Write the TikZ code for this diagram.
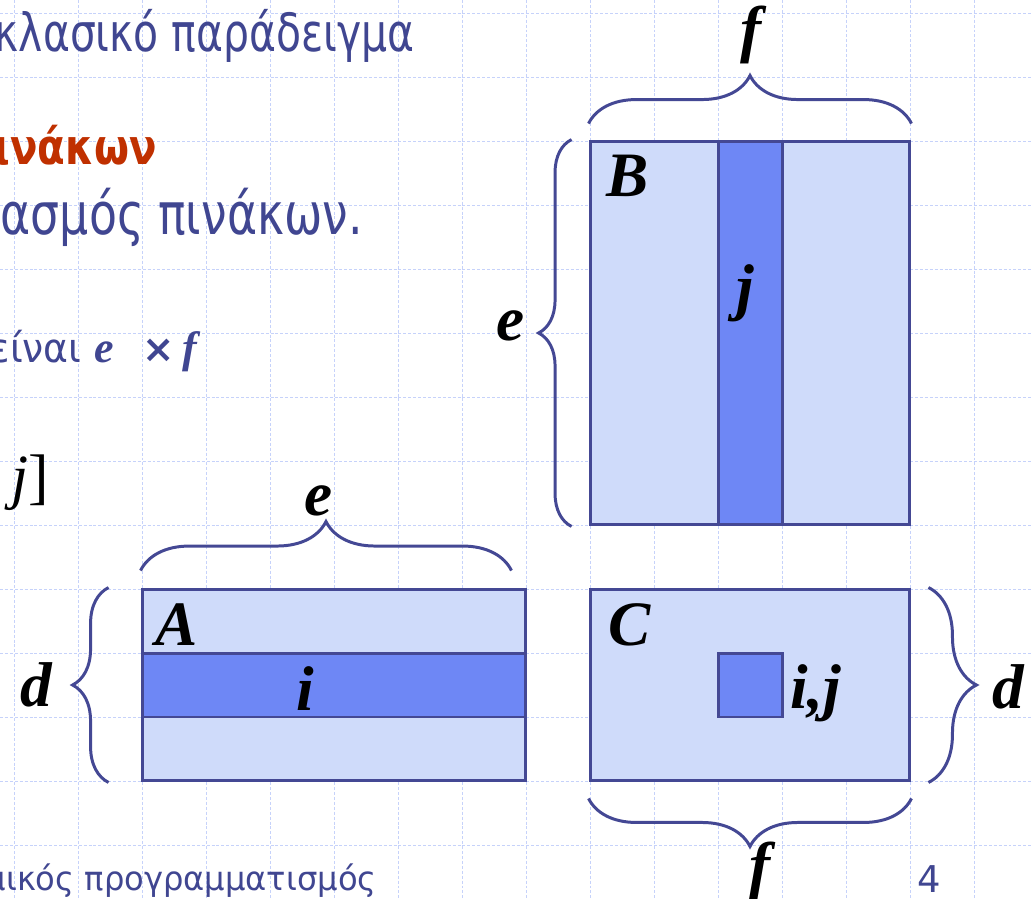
\documentclass[tikz,border=0pt]{standalone}
\usepackage{fontspec}
\setmainfont{Liberation Serif}
\newfontfamily\grfont{DejaVu Sans}
\usetikzlibrary{decorations.pathreplacing,positioning}

\definecolor{textblue}{RGB}{64,70,145}
\definecolor{matline}{RGB}{68,72,148}
\definecolor{matlight}{RGB}{207,219,250}
\definecolor{matdark}{RGB}{110,135,245}
\definecolor{titlered}{RGB}{192,48,0}
\definecolor{gridblue}{RGB}{198,210,250}

\begin{document}
\begin{tikzpicture}[x=0.02cm,y=-0.02cm,
  mat/.style={draw=matline,line width=1.7pt,fill=matlight,inner sep=0pt},
  strip/.style={mat,fill=matdark},
  brace/.style={draw=matline,line width=1.7pt,decorate,decoration={brace,amplitude=#1}},
  lbl/.style={font=\fontsize{36}{36}\selectfont\bfseries\itshape,inner sep=0pt,anchor=base},
  slide/.style={font=\grfont\fontsize{#1}{#1}\selectfont,text=textblue,inner sep=0pt,anchor=base east}]
\useasboundingbox (0,0) rectangle (1033,898);
\clip (0,0) rectangle (1033,898);
\fill[white] (0,0) rectangle (1033,898);
% slide grid
\foreach \x in {14,78,...,1038}
  \draw[gridblue,line width=0.55pt,dash pattern=on 1.7pt off 1.1pt] (\x,0) -- (\x,898);
\foreach \y in {13,77,...,909}
  \draw[gridblue,line width=0.55pt,dash pattern=on 1.7pt off 1.1pt] (0,\y) -- (1033,\y);

% slide text (cut at the left edge)
\node[slide=30] (line1) at (415,52) {\resizebox{8.4cm}{\height}{κλασικό παράδειγμα}};
\node[slide=28,text=titlered] (line2) at (157,165) {\bfseries\resizebox{3.24cm}{\height}{ινάκων}};
\node[slide=33] (line3) at (363,235) {\resizebox{7.24cm}{\height}{ασμός πινάκων.}};
\node[slide=23] (line4) at (82,362) {\resizebox{1.84cm}{\height}{είναι}};
\node[inner sep=0pt,anchor=base west,text=textblue,font=\fontsize{25}{25}\selectfont\bfseries\itshape] (dime) at (94,362) {e};
\node[inner sep=0pt,anchor=base west,text=textblue,font=\grfont\fontsize{22}{22}\selectfont\bfseries] (times) at (142,362) {×};
\node[inner sep=0pt,anchor=base west,text=textblue,font=\fontsize{25}{25}\selectfont\bfseries\itshape] (dimf) at (182,362) {f};
\node[inner sep=0pt,anchor=base west,font=\fontsize{35}{35}\selectfont] (idx) at (11,497) {\textit{j}]};
\node[slide=19] (footer) at (377,890) {\resizebox{7.82cm}{\height}{μικός προγραμματισμός}};
\node[slide=21,anchor=base] (pageno) at (929,892) {4};

% matrices
\node[mat,minimum width=6.4cm,minimum height=7.68cm] (B) at (750,333) {};
\node[strip,minimum width=1.28cm,minimum height=7.68cm] (Bcol) at (B.center) {};
\node[mat,minimum width=7.68cm,minimum height=3.84cm] (A) at (334,685) {};
\node[strip,minimum width=7.68cm,minimum height=1.28cm] (Arow) at (A.center) {};
\node[mat,minimum width=6.4cm,minimum height=3.84cm] (C) at (750,685) {};
\node[strip,minimum size=1.28cm] (Ccell) at (C.center) {};

% braces
\draw[brace=0.96cm] ([yshift=0.32cm]B.north west) -- ([yshift=0.32cm]B.north east);
\draw[brace=0.66cm] ([xshift=-0.34cm]B.south west) -- ([xshift=-0.34cm]B.north west);
\draw[brace=0.98cm] ([yshift=0.34cm]A.north west) -- ([xshift=-0.32cm,yshift=0.34cm]A.north east);
\draw[brace=0.72cm] ([xshift=-0.64cm]A.south west) -- ([xshift=-0.64cm]A.north west);
\draw[brace=0.96cm] ([xshift=0.34cm]C.north east) -- ([xshift=0.34cm]C.south east);
\draw[brace=0.96cm] ([yshift=-0.32cm]C.south east) -- ([yshift=-0.32cm]C.south west);

% labels
\node[lbl] (fB) at (751,51) {f};
\node[lbl] (nameB) at (628,197) {B};
\node[lbl] (colj) at (745,308) {j};
\node[lbl] (eB) at (511,340) {e};
\node[lbl] (eA) at (319,515) {e};
\node[lbl] (nameA) at (177,645) {A};
\node[lbl] (rowi) at (305,710) {i};
\node[lbl] (dA) at (36,706) {d};
\node[lbl] (nameC) at (630,645) {C};
\node[lbl,anchor=base west] (cellij) at (790,708) {i,j};
\node[lbl] (dC) at (1008,708) {d};
\node[lbl] (fC) at (760,886) {f};
\end{tikzpicture}
\end{document}
